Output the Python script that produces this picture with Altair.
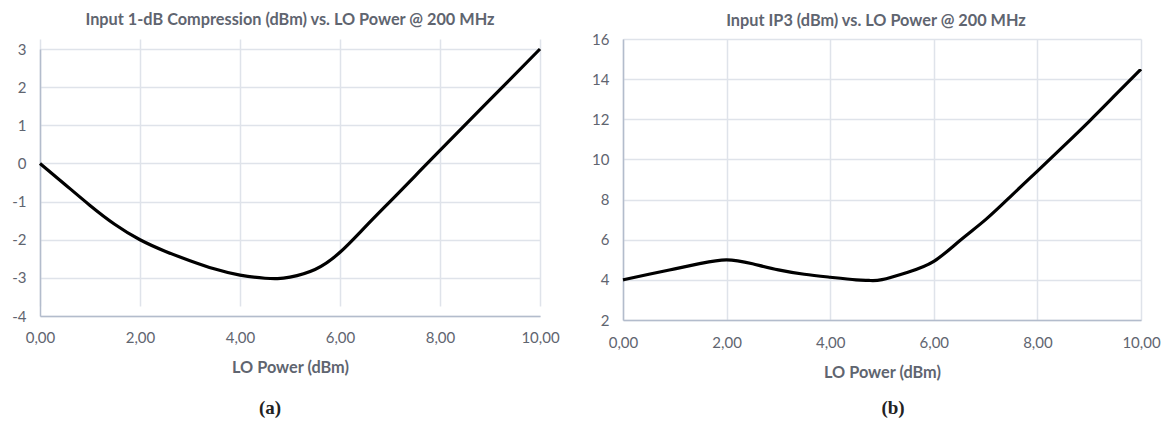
import altair as alt
import pandas as pd

# ---- data ----
# (a) Input 1-dB compression vs LO power
lo_a = [0, 0.5, 1, 1.5, 2, 2.5, 3, 3.5, 4, 4.5, 4.75, 5, 5.5, 6, 6.5, 7, 7.5, 8, 9, 10]
p1db = [0, -0.55, -1.1, -1.6, -2.0, -2.3, -2.55, -2.77, -2.93, -3.01, -3.02, -2.98,
        -2.78, -2.33, -1.67, -1.0, -0.33, 0.34, 1.67, 3.0]

# (b) Input IP3 vs LO power
lo_b = [0, 0.5, 1, 1.5, 2, 2.5, 3, 3.5, 4, 4.5, 4.75, 5, 5.5, 6, 6.5, 7, 7.5, 8, 8.5, 9, 9.5, 10]
iip3 = [4.0, 4.28, 4.55, 4.82, 5.0, 4.8, 4.5, 4.28, 4.13, 4.0, 3.97, 4.01, 4.38, 4.92,
        5.95, 7.0, 8.2, 9.42, 10.65, 11.9, 13.2, 14.5]

x_ticks = [0, 2, 4, 6, 8, 10]
y_ticks_a = [-4, -3, -2, -1, 0, 1, 2, 3]
y_ticks_b = [2, 4, 6, 8, 10, 12, 14, 16]

title_a = "Input 1-dB Compression (dBm) vs. LO Power @ 200 MHz"
title_b = "Input IP3 (dBm) vs. LO Power @ 200 MHz"
x_title = "LO Power (dBm)"
captions_a = ["(a)"]
captions_b = ["(b)"]

FONT = "Lato"
GREY = "#5f6570"
GRID = "#dfe3ea"
DOMAIN = "#b3bccc"

df_a = pd.DataFrame({"lo": lo_a, "val": p1db})
df_b = pd.DataFrame({"lo": lo_b, "val": iip3})


def make_panel(df, yticks, title, caption, w, h, top_gap, t_off, t_dx,
               lab_pad, tit_pad, cap_x, cap_y):
    line = alt.Chart(df).mark_line(
        color="black", strokeWidth=3.2, interpolate="natural"
    ).encode(
        x=alt.X("lo:Q", scale=alt.Scale(domain=[0, 10], nice=False),
                axis=alt.Axis(values=x_ticks, title=x_title,
                              labelExpr="replace(format(datum.value, '.2f'), '.', ',')",
                              labelPadding=lab_pad, titlePadding=tit_pad)),
        y=alt.Y("val:Q", scale=alt.Scale(domain=[yticks[0], yticks[-1]], nice=False,
                                         zero=False, range=[h, top_gap]),
                axis=alt.Axis(values=yticks, title=None, labelExpr="'' + datum.value",
                              labelPadding=14)),
    )
    cap = alt.Chart(pd.DataFrame({"c": caption})).mark_text(
        font="Liberation Serif", fontSize=19, fontWeight="bold", color="#222222",
        align="center", baseline="middle"
    ).encode(text="c:N", x=alt.value(cap_x), y=alt.value(cap_y))
    return alt.layer(line, cap).properties(
        width=w, height=h,
        title=alt.TitleParams(title, offset=t_off, dx=t_dx, font=FONT, fontSize=16.3,
                              fontWeight="bold", color=GREY, anchor="middle"),
    )


left = make_panel(df_a, y_ticks_a, title_a, captions_a, 500, 277, 10, 10.5, 0,
                  14, 14.3, 230, 369)
right = make_panel(df_b, y_ticks_b, title_b, captions_b, 518, 281, 0, 3, -6,
                   15, 14.5, 270, 369)

chart = alt.hconcat(left, right, spacing=31).configure(
    padding={"left": 3, "top": 4, "right": 0, "bottom": 0},
    background="white",
).configure_view(stroke=None).configure_axis(
    labelFont=FONT, labelFontSize=15, labelColor=GREY,
    titleFont=FONT, titleFontSize=16.3, titleFontWeight="bold", titleColor=GREY,
    gridColor=GRID, gridWidth=1.5, domainColor=DOMAIN, domainWidth=1.5,
    ticks=False, tickSize=0, labelFlush=False, labelOverlap=False,
)

chart.save("out.html", embed_options={"renderer": "svg", "actions": False})
